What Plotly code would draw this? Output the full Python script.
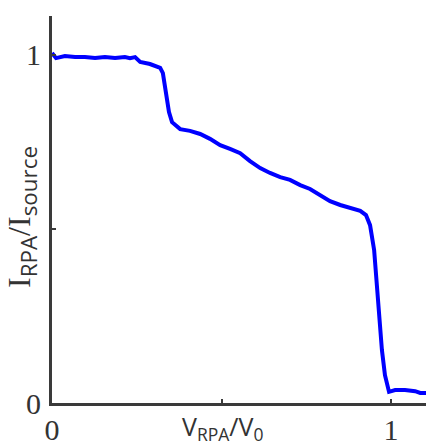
import plotly.graph_objects as go

v_ratio = [0.000, 0.012, 0.038, 0.068, 0.097, 0.127, 0.156, 0.186, 0.215, 0.230, 0.245,
           0.260, 0.289, 0.319, 0.327, 0.336, 0.345, 0.354, 0.378, 0.407, 0.437, 0.466,
           0.496, 0.525, 0.555, 0.584, 0.614, 0.643, 0.673, 0.702, 0.732, 0.761, 0.791,
           0.820, 0.850, 0.879, 0.909, 0.926, 0.938, 0.950, 0.962, 0.973, 0.982, 0.994,
           1.012, 1.041, 1.071, 1.086, 1.103]
i_ratio = [1.006, 0.991, 0.997, 0.994, 0.994, 0.991, 0.994, 0.991, 0.994, 0.991, 0.994,
           0.980, 0.974, 0.963, 0.948, 0.899, 0.836, 0.807, 0.787, 0.782, 0.773, 0.759,
           0.741, 0.730, 0.718, 0.695, 0.675, 0.661, 0.649, 0.641, 0.626, 0.615, 0.598,
           0.580, 0.569, 0.560, 0.552, 0.540, 0.511, 0.440, 0.296, 0.152, 0.080, 0.032,
           0.037, 0.037, 0.034, 0.029, 0.029]

tick_vals = [0, 0.5, 1]
tick_text = ["0", "", "1"]

fig = go.Figure()
fig.add_trace(go.Scatter(x=v_ratio, y=i_ratio, mode="lines",
                         line=dict(color="#0000ff", width=4), hoverinfo="skip"))

axis_common = dict(showline=True, linecolor="#3a3a3a", linewidth=3, showgrid=False,
                   zeroline=False, ticks="inside", ticklen=4, tickwidth=2, tickcolor="#3a3a3a",
                   tickvals=tick_vals, ticktext=tick_text, automargin=False,
                   tickfont=dict(family="Liberation Serif", size=30, color="#333333"))

SANS = "font-family:'Open Sans'"
x_title = f"V<sub><span style=\"{SANS}\">RPA</span></sub>/V<sub><span style=\"{SANS}\">0</span></sub>"
y_title = f"I<sub><span style=\"{SANS}\">RPA</span></sub>/I<sub><span style=\"{SANS}\">source</span></sub>"

fig.update_layout(
    width=426, height=448,
    margin=dict(l=52, r=0, t=16, b=45),
    paper_bgcolor="white", plot_bgcolor="white",
    showlegend=False,
    xaxis=dict(range=[0, 1.103], ticklabelstandoff=-2, **axis_common),
    yaxis=dict(range=[0, 1.112], ticklabelstandoff=2, **axis_common),
    annotations=[
        dict(text=x_title, x=(222 - 52) / 374, y=-(427 - 403) / 387, xref="paper", yref="paper",
             xanchor="center", yanchor="middle", showarrow=False,
             font=dict(family="Open Sans", size=25, color="#333333")),
        dict(text=y_title, x=(22 - 52) / 374, y=(403 - 217) / 387, xref="paper", yref="paper",
             xanchor="center", yanchor="middle", showarrow=False, textangle=-90,
             font=dict(family="Liberation Serif", size=32, color="#333333")),
    ],
)
fig.write_html("out.html", config={"displayModeBar": False},
               post_script="document.body.style.margin='0';")
